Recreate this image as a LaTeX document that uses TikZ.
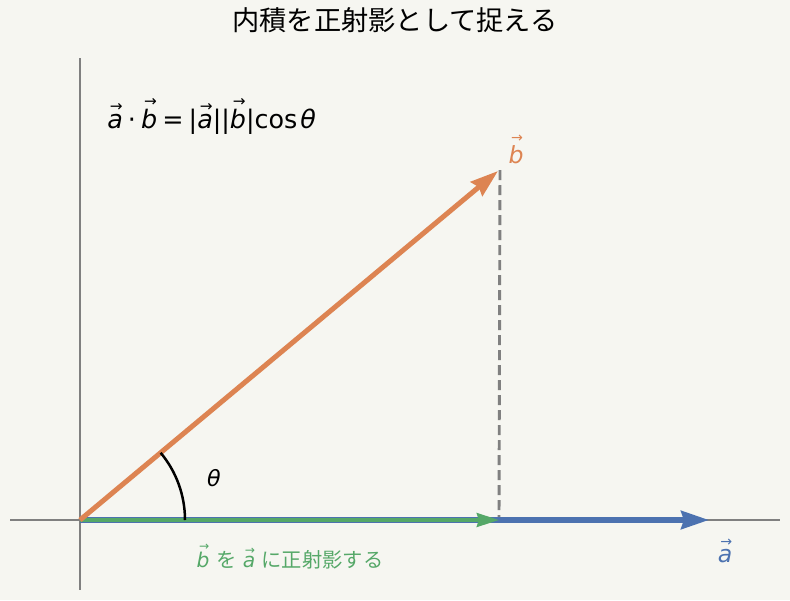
\documentclass[tikz,border=0pt]{standalone}
\usepackage{graphicx}
\usepackage{fontspec}
\setmainfont{DejaVu Sans}
\newfontfamily\jp{Noto Sans CJK JP}
\usetikzlibrary{arrows.meta}
\definecolor{bg}{HTML}{F6F6F1}
\definecolor{cblue}{HTML}{4C72B0}
\definecolor{corange}{HTML}{DD8452}
\definecolor{cgreen}{HTML}{55A868}
\definecolor{cgray}{HTML}{808080}
\newlength\vecraise
\newcommand\vecl[1]{{\setbox0\hbox{\itshape #1}\setlength\vecraise{\ht0}\addtolength\vecraise{0.1em}\hbox to \wd0{\hss\kern0.1em\smash{\raisebox{\vecraise}{\scalebox{0.6}{→}}}\hss}\kern-\wd0\box0}}
\newcommand\opsp{\kern0.2em}
\tikzset{
  axisline/.style={draw=cgray,line width=0.95pt},
  vecblue/.style={draw=cblue,line width=4pt,-{Stealth[length=20pt,width=13pt,inset=2pt]}},
  vecgreen/.style={draw=cgreen,line width=2.4pt,-{Stealth[length=16pt,width=10pt,inset=1.5pt]}},
  vecorange/.style={draw=corange,line width=3.6pt,-{Stealth[length=20pt,width=13pt,inset=2pt]}},
  projline/.style={draw=cgray,line width=2.1pt,dash pattern=on 7.2pt off 3.6pt},
  anglearc/.style={draw=black,line width=1.8pt},
  lbl/.style={inner sep=0pt,anchor=center}
}
\begin{document}
\begin{tikzpicture}[x=0.72pt,y=-0.72pt]
\fill[bg] (0,0) rectangle (790,600);
\useasboundingbox (0,0) rectangle (790,600);
\coordinate (O) at (80,520);
\coordinate (XL) at (10,520);
\coordinate (XR) at (780,520);
\coordinate (YT) at (80,58);
\coordinate (YB) at (80,590);
\coordinate (A) at (709,520);
\coordinate (B) at (498,171);
\coordinate (Btop) at (500,170);
\coordinate (P) at (499,520);
\coordinate (Arc0) at (185,520);
% axes
\draw[axisline] (XL) -- (XR);
\draw[axisline] (YT) -- (YB);
% projection
\draw[projline] (Btop) -- (P);
% vectors
\draw[vecblue] (O) -- (A);
\draw[vecgreen] (O) -- (P);
\draw[vecorange] (O) -- (B);
% angle
\draw[anglearc] (Arc0) arc[start angle=0,end angle=-39.8,radius=105];
% labels
\node[lbl] (title) at (395,20) {\jp\fontsize{19.6}{22}\selectfont 内積を正射影として捉える};
\node[lbl,anchor=base west] (formula) at (107,128) {\fontsize{18.3}{21}\selectfont \vecl{a}\opsp·\opsp\vecl{b}\opsp=\opsp|\vecl{a}||\vecl{b}|cos\kern0.12em\textit{θ}};
\node[lbl,anchor=base,text=corange] (blabel) at (516,163) {\fontsize{17}{20}\selectfont\vecl{b}};
\node[lbl,anchor=base,text=cblue] (alabel) at (725,562) {\fontsize{17}{20}\selectfont\vecl{a}};
\node[lbl] (theta) at (214,478) {\fontsize{16}{19}\selectfont\textit{θ}};
\node[lbl,text=cgreen] (proj) at (290,560) {\fontsize{14.6}{17}\selectfont\vecl{b} {\jp を} \vecl{a} {\jp に正射影する}};
\end{tikzpicture}
\end{document}
